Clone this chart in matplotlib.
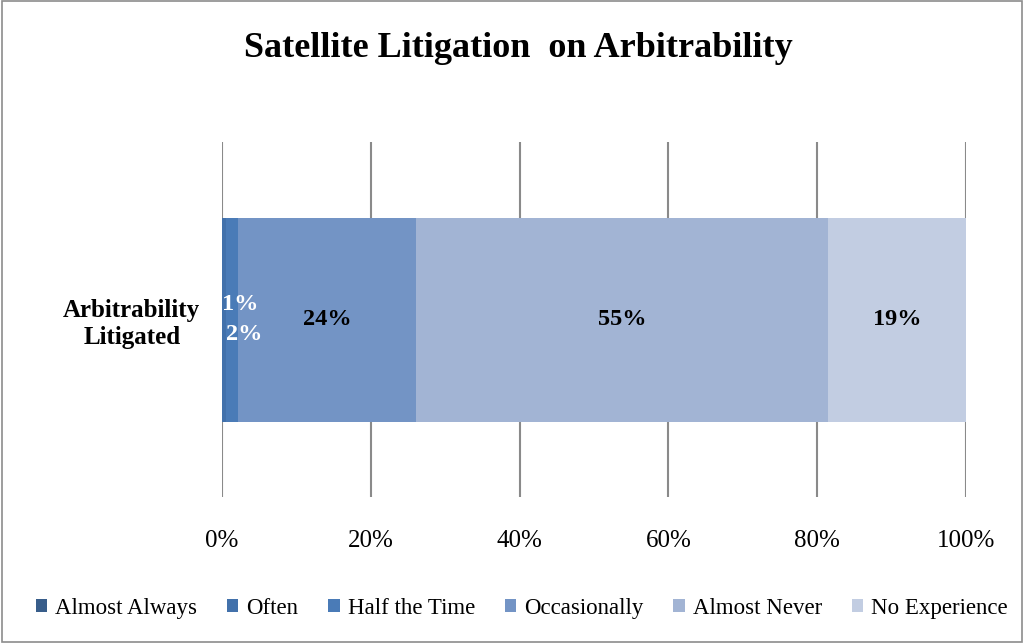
import matplotlib.pyplot as plt
from matplotlib.patches import Rectangle

# Ответы по одной категории, в процентах
category = "Arbitrability\nLitigated"
series_names = ["Almost Always", "Often", "Half the Time",
                "Occasionally", "Almost Never", "No Experience"]
series_values = [0.0, 0.6, 1.6, 23.9, 55.3, 18.6]
series_colors = ["#385d8a", "#4271ab", "#4a7bb7", "#7394c5", "#a2b4d4", "#c2cde2"]
label_colors = [None, "white", "white", "black", "black", "black"]
x_ticks = [0, 20, 40, 60, 80, 100]

plt.rcParams['font.family'] = ['Liberation Serif', 'DejaVu Serif']

fig = plt.figure(figsize=(10.24, 6.43), dpi=100)
ax = fig.add_axes([0.2168, 0.227, 0.7266, 0.552])

# Рамка вокруг всей диаграммы
fig.patches.append(Rectangle((0.002, 0.002), 0.996, 0.996, transform=fig.transFigure,
                             fill=False, edgecolor="#8c8c8c", linewidth=1.2))

left = 0.0
for i, (name, val, col) in enumerate(zip(series_names, series_values, series_colors)):
    ax.barh(0, val, left=left, height=0.575, color=col, label=name, zorder=3)
    if val > 0:
        text = f"{round(val):.0f}%"
        if val < 5:
            # маленькие сегменты: подписи сдвинуты вверх/вниз, чтобы не налезали
            dy = 11 if i == 1 else -11
            ax.annotate(text, (left, 0), xytext=(0, dy), textcoords="offset points",
                        ha="left", va="center", fontsize=17.5, fontweight="bold",
                        color=label_colors[i], zorder=4)
        else:
            ax.text(left + val / 2, 0, text, ha="center", va="center", fontsize=17.5,
                    fontweight="bold", color=label_colors[i], zorder=4)
    left += val

ax.set_xlim(0, 100)
ax.set_ylim(-0.5, 0.5)
ax.set_xticks(x_ticks)
ax.set_xticklabels([f"{t}%" for t in x_ticks], fontsize=18)
ax.set_yticks([0])
ax.set_yticklabels([category], fontsize=18, fontweight="bold", ha="center")
ax.tick_params(axis="y", length=0, pad=65)
ax.tick_params(axis="x", length=0, pad=24)
ax.grid(axis="x", color="#8a8a8a", linewidth=1.5, zorder=0)
for s in ax.spines.values():
    s.set_visible(False)

fig.suptitle("Satellite Litigation  on Arbitrability", x=0.506, y=0.95,
             fontsize=26, fontweight="bold")

ax.legend(loc="center", bbox_to_anchor=(0.5095, 0.054), bbox_transform=fig.transFigure,
          ncol=6, frameon=False, fontsize=16.5, handlelength=0.5, handleheight=0.5,
          handletextpad=0.35, columnspacing=1.3)

fig.savefig("out.png", dpi=100)
